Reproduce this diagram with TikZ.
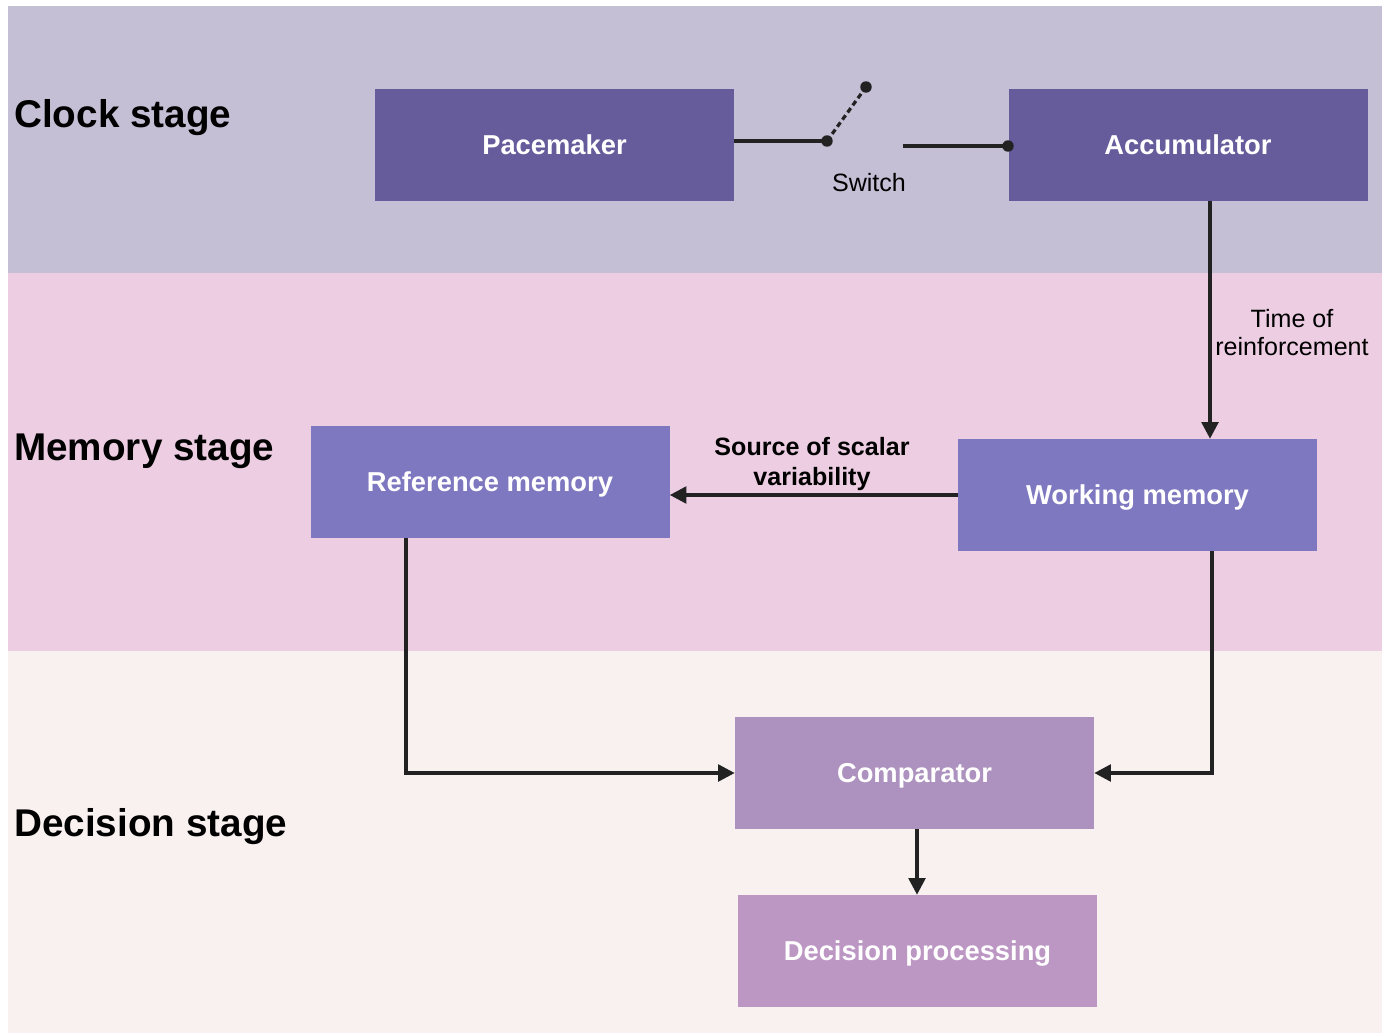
\documentclass[tikz,border=0pt]{standalone}
\usepackage{fontspec}
\setmainfont{Liberation Sans}
\usetikzlibrary{arrows.meta}

\definecolor{clockbg}{HTML}{C4BFD5}
\definecolor{memorybg}{HTML}{ECCDE2}
\definecolor{decisionbg}{HTML}{F9F1F0}
\definecolor{clockbox}{HTML}{665C9C}
\definecolor{memorybox}{HTML}{7E78C0}
\definecolor{compbox}{HTML}{AD91BE}
\definecolor{decbox}{HTML}{BC97C4}
\definecolor{linec}{HTML}{222222}

\begin{document}
\begin{tikzpicture}[
  x=0.75pt, y=-0.75pt,
  stagebox/.style={rectangle, draw=none, inner sep=0pt,
    minimum width=269.25pt, minimum height=84pt, text=white,
    text height=14.8pt, text depth=0pt,
    font=\bfseries\fontsize{20.5}{24}\selectfont},
  stagelabel/.style={anchor=base west, inner sep=0pt,
    font=\bfseries\fontsize{29}{34}\selectfont},
  note/.style={align=center, inner sep=0pt,
    font=\fontsize{18.8}{21}\selectfont},
  conn/.style={draw=linec, line width=2.6pt},
  arr/.style={conn, -{Triangle[length=12.5pt,width=12.5pt]}},
  dot/.style={fill=linec}
]
\useasboundingbox (0,0) rectangle (1388,1035);
\fill[white] (0,0) rectangle (1388,1035);

% stage bands
\fill[clockbg]    (8,6)   rectangle (1382,273);
\fill[memorybg]   (8,273) rectangle (1382,651);
\fill[decisionbg] (8,651) rectangle (1382,1033);

% stage titles
\node[stagelabel] (lclock)    at (14,127) {Clock stage};
\node[stagelabel] (lmemory)   at (14,460) {Memory stage};
\node[stagelabel] (ldecision) at (14,836) {Decision stage};

% process boxes
\node[stagebox, fill=clockbox]  (pm)  at (554.5,145)  {Pacemaker};
\node[stagebox, fill=clockbox]  (acc) at (1188,145)   {Accumulator};
\node[stagebox, fill=memorybox] (ref) at (490,481.5)  {Reference memory};
\node[stagebox, fill=memorybox] (wm)  at (1137.5,495) {Working memory};
\node[stagebox, fill=compbox]   (cmp) at (914.5,773)  {Comparator};
\node[stagebox, fill=decbox]    (dp)  at (917.5,951)  {Decision processing};

% switch between pacemaker and accumulator
\coordinate (sw1) at (827,141);
\coordinate (sw2) at (866,87);
\coordinate (sw3) at (903,146);
\coordinate (sw4) at (1008,146);
\draw[conn] (sw1 -| pm.east) -- (sw1);
\draw[conn, line width=2.4pt, dash pattern=on 4pt off 2.6pt] (sw1) -- (sw2);
\draw[conn] (sw3) -- (sw4);
\fill[dot] (sw1) circle[radius=4.3pt];
\fill[dot] (sw2) circle[radius=4.3pt];
\fill[dot] (sw4) circle[radius=4.3pt];
\node[note] (swl) at (869,183) {Switch};

% vertical guides for the connectors
\coordinate (vacc) at (1210,0);
\coordinate (vref) at (406,0);
\coordinate (vwm)  at (1212,0);
\coordinate (vcmp) at (917,0);

% connectors
\draw[arr] (acc.south -| vacc) -- (wm.north -| vacc);
\node[note] (tor) at (1292,333) {Time of\\reinforcement};

\draw[arr] (wm.west) -- (ref.east |- wm.west);
\node[note, font=\bfseries\fontsize{18.8}{23}\selectfont] (ssv) at (812,464)
  {Source of scalar\\variability};

\draw[arr] (ref.south -| vref) |- (cmp.west);
\draw[arr] (wm.south -| vwm) |- (cmp.east);
\draw[arr] (cmp.south -| vcmp) -- (dp.north -| vcmp);
\end{tikzpicture}
\end{document}
